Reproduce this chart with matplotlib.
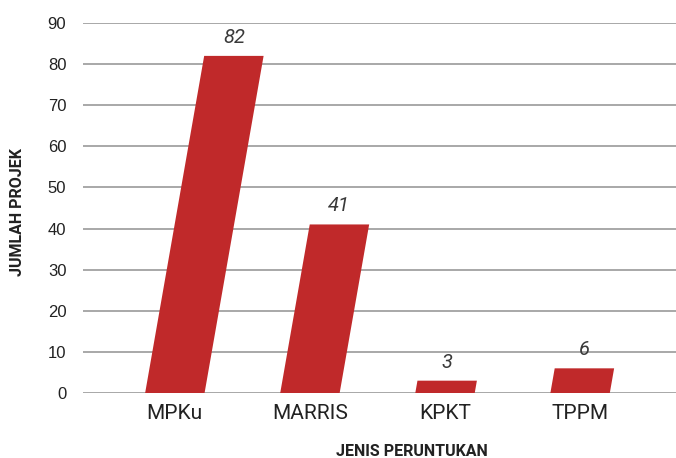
import matplotlib
matplotlib.use('Agg')
import matplotlib.pyplot as plt
import matplotlib.transforms as mtransforms

categories = ['MPKu', 'MARRIS', 'KPKT', 'TPPM']
values = [82, 41, 3, 6]

SLANT = 0.00533  # x-shift (in category units) per unit of height

fig = plt.figure(figsize=(6.76, 4.58), dpi=100)
ax = fig.add_axes([83 / 676, 1 - 393 / 458, 1 - 83 / 676, 370 / 458])

x = list(range(len(categories)))
bars = ax.bar(x, values, width=0.44, color='#C0292A', zorder=3)

# slanted bars: shift right as they rise
skew = mtransforms.Affine2D.from_values(1, 0, SLANT, 1, 0, 0)
for b in bars:
    b.set_transform(skew + ax.transData)

for xi, v in zip(x, values):
    ax.text(xi + v * SLANT, v + 2.2, str(v), ha='center', va='bottom',
            fontsize=14.5, style='italic', color='#3a3a3a', family='Roboto')

ax.set_xlim(-0.68, 3.71)
ax.set_ylim(0, 90)
ax.set_yticks(range(0, 91, 10))
ax.yaxis.grid(True, color='#9a9a9a', linewidth=1.2, zorder=0)
ax.set_axisbelow(True)
for s in ax.spines.values():
    s.set_visible(False)
ax.tick_params(axis='y', length=0, pad=12, labelsize=12, labelcolor='#222222')
ax.tick_params(axis='x', length=0, pad=8, labelsize=15, labelcolor='#222222')
ax.set_xticks(x)
ax.set_xticklabels(categories, family='Roboto')
for lab in ax.get_yticklabels():
    lab.set_family('Liberation Sans')

fig.text(18 / 676, 1 - 212 / 458, 'JUMLAH PROJEK', rotation=90, ha='center', va='center',
         fontsize=11.5, fontweight='bold', family='Roboto', color='#222222')
fig.text(412 / 676, 1 - 451 / 458, 'JENIS PERUNTUKAN', ha='center', va='center',
         fontsize=11.5, fontweight='bold', family='Roboto', color='#222222')

fig.savefig('out.png', dpi=100)
